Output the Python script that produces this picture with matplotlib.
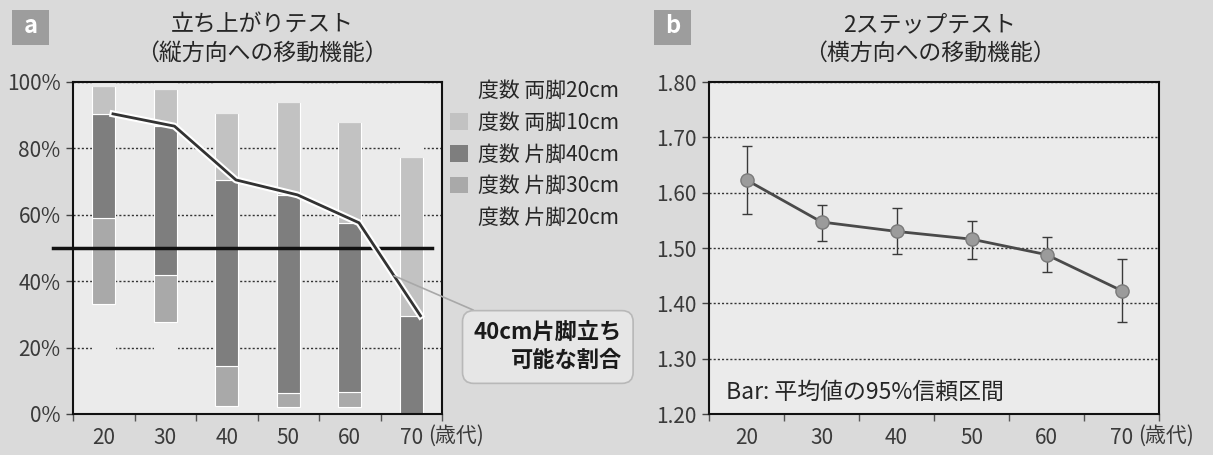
import numpy as np
import matplotlib
matplotlib.use('Agg')
import matplotlib.pyplot as plt
import matplotlib.patheffects as pe
from matplotlib.patches import Rectangle

plt.rcParams['font.family'] = ['Noto Sans CJK JP', 'DejaVu Sans']

W, H = 1213, 455

ages = ['20', '30', '40', '50', '60', '70']

# 立ち上がりテスト: 度数 (%) stacked from the hardest level upward
one_leg_20 = [33.1, 27.6, 2.5, 2.0, 2.0, 0.0]
one_leg_30 = [25.9, 14.3, 12.1, 4.4, 4.5, 0.0]
one_leg_40 = [31.4, 44.8, 55.9, 59.6, 51.1, 29.6]
both_leg_10 = [8.4, 11.1, 20.1, 28.1, 30.4, 47.7]
both_leg_20 = [1.2, 2.2, 9.4, 5.9, 12.0, 22.7]

# 2ステップテスト: mean and 95% CI
step_mean = [1.623, 1.547, 1.530, 1.516, 1.488, 1.423]
step_upper = [1.685, 1.577, 1.572, 1.548, 1.520, 1.481]
step_lower = [1.562, 1.512, 1.490, 1.481, 1.457, 1.366]

FIG_BG = '#dadada'
AX_BG = '#ebebeb'
TXT = '#262626'


def px(x, y):
    # pixel position (from top-left) -> figure fraction
    return x / W, 1 - y / H


def badge(fig, x, y, letter):
    fig.patches.append(Rectangle(px(x, y + 35), 37 / W, 35 / H,
                                 transform=fig.transFigure, fc='#9d9d9d', ec='none'))
    fig.text(*px(x + 18.5, y + 16), letter, color='white', fontsize=17,
             fontweight='bold', ha='center', va='center')


def style_axes(ax, unit_x):
    ax.set_facecolor(AX_BG)
    for s in ax.spines.values():
        s.set_linewidth(1.5)
        s.set_color('#111111')
    ax.set_xlim(-0.5, 5.5)
    ax.set_xticks(np.arange(6))
    ax.set_xticklabels(ages)
    ax.set_xticks(np.arange(-0.5, 6, 1), minor=True)
    ax.tick_params(axis='x', which='major', length=0, pad=9)
    ax.tick_params(axis='x', which='minor', length=5, width=1, color='#555555')
    ax.tick_params(axis='y', length=5, width=1, color='#444444', pad=4)
    ax.tick_params(labelsize=15, labelcolor='#3a3a3a')
    ax.yaxis.grid(True, linestyle=(0, (1.5, 1.5)), color='#333333', lw=1)
    ax.set_axisbelow(True)
    ax.text(unit_x, -0.032, '(歳代)', transform=ax.get_xaxis_transform(),
            ha='left', va='top', fontsize=15, color='#3a3a3a', clip_on=False)


fig = plt.figure(figsize=(W / 100, H / 100), dpi=100)
fig.patch.set_facecolor(FIG_BG)

x = np.arange(len(ages))

# ---- a: 立ち上がりテスト
ax1 = fig.add_axes([73 / W, 41 / H, 369 / W, 332 / H])
style_axes(ax1, 5.27)
ax1.set_ylim(0, 100)
ax1.set_yticks(range(0, 101, 20))
ax1.set_yticklabels([f'{v}%' for v in range(0, 101, 20)])

series = [
    (one_leg_20, AX_BG, '度数 片脚20cm'),
    (one_leg_30, '#a9a9a9', '度数 片脚30cm'),
    (one_leg_40, '#7e7e7e', '度数 片脚40cm'),
    (both_leg_10, '#c2c2c2', '度数 両脚10cm'),
    (both_leg_20, AX_BG, '度数 両脚20cm'),
]
bottom = np.zeros(len(ages))
bars = []
for vals, color, label in series:
    edge = AX_BG if color == AX_BG else 'white'
    b = ax1.bar(x, vals, 0.37, bottom=bottom, color=color, edgecolor=edge,
                lw=0.8, label=label, zorder=2)
    bars.append(b)
    bottom += np.array(vals)

# share of people who can stand up on one leg from 40cm
can_40 = np.array(one_leg_20) + np.array(one_leg_30) + np.array(one_leg_40)
line_x = x + 0.15
ax1.axhline(50, xmin=-0.055, xmax=0.973, color='#111111', lw=2.5,
            clip_on=False, zorder=3)
ax1.plot(line_x, can_40, color='#333333', lw=2, zorder=4,
         path_effects=[pe.Stroke(linewidth=5, foreground='white'), pe.Normal()])

ax1.annotate('40cm片脚立ち\n可能な割合',
             xy=(4.72, np.interp(4.72, line_x, can_40)),
             xytext=(622, H - 347), textcoords='figure pixels',
             ha='right', va='center', multialignment='right',
             fontsize=16, fontweight='bold', color='#1a1a1a', linespacing=1.25,
             bbox=dict(boxstyle='round,pad=0.5', fc='#e6e6e6', ec='#b8b8b8', lw=1.2),
             arrowprops=dict(arrowstyle='-', color='#a8a8a8', lw=1.2,
                             shrinkA=0, shrinkB=0, relpos=(0.18, 1)),
             zorder=5)

leg = fig.legend(bars[::-1], [s[2] for s in series[::-1]],
                 loc='upper left', bbox_to_anchor=px(450, 80), frameon=False,
                 fontsize=15, handlelength=0.85, handleheight=0.85,
                 handletextpad=0.5, labelspacing=0.47,
                 borderpad=0, borderaxespad=0)
for t in leg.get_texts():
    t.set_color(TXT)
for h in (leg.legend_handles[0], leg.legend_handles[-1]):
    h.set_facecolor('none')
    h.set_edgecolor('none')
for h in leg.legend_handles[1:-1]:
    h.set_edgecolor('none')

badge(fig, 12, 10, 'a')
fig.text(*px(262, 25), '立ち上がりテスト', ha='center', va='center',
         fontsize=16.5, color=TXT)
fig.text(*px(262, 53), '（縦方向への移動機能）', ha='center', va='center',
         fontsize=16.5, color=TXT)

# ---- b: 2ステップテスト
ax2 = fig.add_axes([709 / W, 41 / H, 450 / W, 332 / H])
style_axes(ax2, 5.22)
ax2.set_ylim(1.2, 1.8)
ax2.set_yticks(np.arange(1.2, 1.81, 0.1))
ax2.yaxis.set_major_formatter(matplotlib.ticker.FormatStrFormatter('%.2f'))

mean = np.array(step_mean)
yerr = [mean - np.array(step_lower), np.array(step_upper) - mean]
ax2.errorbar(x, mean, yerr=yerr, fmt='-o', color='#4a4a4a', lw=2,
             ecolor='#3a3a3a', elinewidth=1, capsize=3.5, capthick=1,
             markersize=9.5, mfc='#9b9b9b', mec='#7a7a7a', mew=1, zorder=3)
ax2.text(0.038, 0.066, 'Bar: 平均値の95%信頼区間', transform=ax2.transAxes,
         ha='left', va='center', fontsize=16.5, color=TXT)

badge(fig, 654, 10, 'b')
fig.text(*px(930, 25), '2ステップテスト', ha='center', va='center',
         fontsize=16.5, color=TXT)
fig.text(*px(930, 53), '（横方向への移動機能）', ha='center', va='center',
         fontsize=16.5, color=TXT)

fig.savefig('out.png', dpi=100, facecolor=fig.get_facecolor())
